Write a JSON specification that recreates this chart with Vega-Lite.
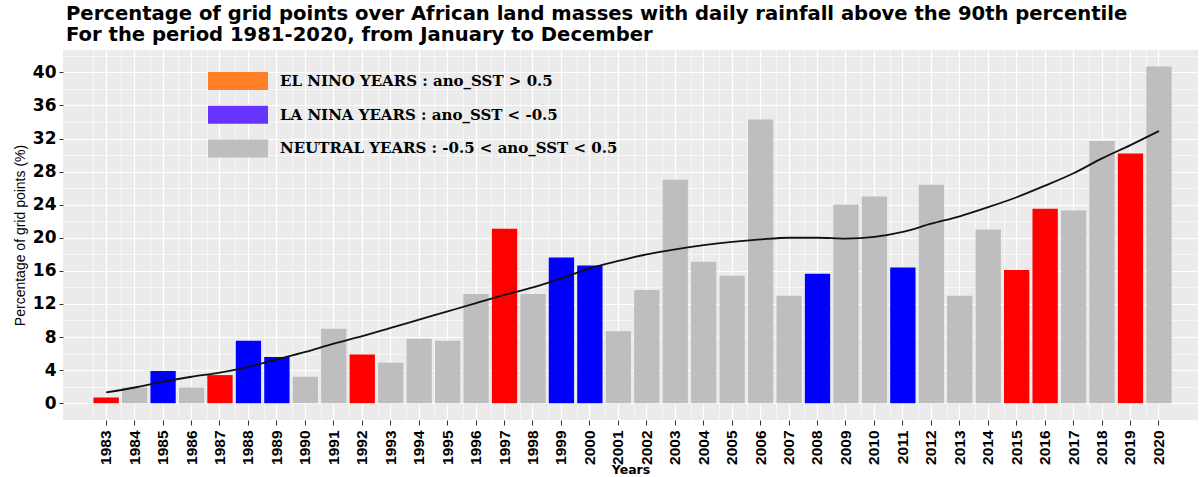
{
  "$schema": "https://vega.github.io/schema/vega-lite/v6.json",
  "autosize": "none",
  "width": 1135,
  "height": 370,
  "padding": {"left": 63, "top": 50, "right": 3, "bottom": 57},
  "background": "white",
  "title": {
    "text": ["Percentage of grid points over African land masses with daily rainfall above the 90th percentile", "For the period 1981-2020, from January to December"],
    "anchor": "start",
    "frame": "group",
    "font": "DejaVu Sans",
    "fontSize": 19.6,
    "fontWeight": "bold",
    "color": "black",
    "lineHeight": 21,
    "offset": 4,
    "dx": 3
  },
  "config": {
    "view": {"fill": "#EBEBEB", "stroke": null},
    "axis": {"domain": false}
  },
  "datasets": {
    "bars": [
      {"year": 1983, "value": 0.7, "phase": "El Nino"},
      {"year": 1984, "value": 1.9, "phase": "Neutral"},
      {"year": 1985, "value": 3.9, "phase": "La Nina"},
      {"year": 1986, "value": 1.9, "phase": "Neutral"},
      {"year": 1987, "value": 3.4, "phase": "El Nino"},
      {"year": 1988, "value": 7.55, "phase": "La Nina"},
      {"year": 1989, "value": 5.6, "phase": "La Nina"},
      {"year": 1990, "value": 3.2, "phase": "Neutral"},
      {"year": 1991, "value": 9.0, "phase": "Neutral"},
      {"year": 1992, "value": 5.9, "phase": "El Nino"},
      {"year": 1993, "value": 4.9, "phase": "Neutral"},
      {"year": 1994, "value": 7.8, "phase": "Neutral"},
      {"year": 1995, "value": 7.55, "phase": "Neutral"},
      {"year": 1996, "value": 13.2, "phase": "Neutral"},
      {"year": 1997, "value": 21.1, "phase": "El Nino"},
      {"year": 1998, "value": 13.2, "phase": "Neutral"},
      {"year": 1999, "value": 17.6, "phase": "La Nina"},
      {"year": 2000, "value": 16.65, "phase": "La Nina"},
      {"year": 2001, "value": 8.7, "phase": "Neutral"},
      {"year": 2002, "value": 13.7, "phase": "Neutral"},
      {"year": 2003, "value": 27.0, "phase": "Neutral"},
      {"year": 2004, "value": 17.1, "phase": "Neutral"},
      {"year": 2005, "value": 15.4, "phase": "Neutral"},
      {"year": 2006, "value": 34.3, "phase": "Neutral"},
      {"year": 2007, "value": 13.0, "phase": "Neutral"},
      {"year": 2008, "value": 15.65, "phase": "La Nina"},
      {"year": 2009, "value": 24.0, "phase": "Neutral"},
      {"year": 2010, "value": 25.0, "phase": "Neutral"},
      {"year": 2011, "value": 16.4, "phase": "La Nina"},
      {"year": 2012, "value": 26.4, "phase": "Neutral"},
      {"year": 2013, "value": 13.0, "phase": "Neutral"},
      {"year": 2014, "value": 21.0, "phase": "Neutral"},
      {"year": 2015, "value": 16.1, "phase": "El Nino"},
      {"year": 2016, "value": 23.5, "phase": "El Nino"},
      {"year": 2017, "value": 23.3, "phase": "Neutral"},
      {"year": 2018, "value": 31.7, "phase": "Neutral"},
      {"year": 2019, "value": 30.2, "phase": "El Nino"},
      {"year": 2020, "value": 40.7, "phase": "Neutral"}
    ],
    "trend": [
      {"year": 1983, "value": 1.3},
      {"year": 1984, "value": 1.9},
      {"year": 1985, "value": 2.6},
      {"year": 1986, "value": 3.2},
      {"year": 1987, "value": 3.7},
      {"year": 1988, "value": 4.4},
      {"year": 1989, "value": 5.3},
      {"year": 1990, "value": 6.2},
      {"year": 1991, "value": 7.2},
      {"year": 1992, "value": 8.1},
      {"year": 1993, "value": 9.1},
      {"year": 1994, "value": 10.1},
      {"year": 1995, "value": 11.1},
      {"year": 1996, "value": 12.1},
      {"year": 1997, "value": 13.1},
      {"year": 1998, "value": 14.0},
      {"year": 1999, "value": 15.1},
      {"year": 2000, "value": 16.3},
      {"year": 2001, "value": 17.2},
      {"year": 2002, "value": 18.0},
      {"year": 2003, "value": 18.6},
      {"year": 2004, "value": 19.1},
      {"year": 2005, "value": 19.5},
      {"year": 2006, "value": 19.8},
      {"year": 2007, "value": 20.0},
      {"year": 2008, "value": 20.0},
      {"year": 2009, "value": 19.9},
      {"year": 2010, "value": 20.1},
      {"year": 2011, "value": 20.7},
      {"year": 2012, "value": 21.7},
      {"year": 2013, "value": 22.6},
      {"year": 2014, "value": 23.7},
      {"year": 2015, "value": 24.9},
      {"year": 2016, "value": 26.3},
      {"year": 2017, "value": 27.8},
      {"year": 2018, "value": 29.6},
      {"year": 2019, "value": 31.2},
      {"year": 2020, "value": 32.9}
    ]
  },
  "resolve": {"axis": {"x": "independent", "y": "independent"}},
  "layer": [
    {
      "data": {"name": "bars"},
      "mark": {"type": "bar"},
      "encoding": {
        "x": {
          "field": "year",
          "type": "ordinal",
          "scale": {"paddingInner": 0.11, "paddingOuter": 1.8, "align": 0.536},
          "axis": {
            "title": "Years",
            "orient": "bottom",
            "labelAngle": 270,
            "labelFont": "Liberation Sans",
            "labelFontWeight": "bold",
            "labelFontSize": 15.5,
            "labelColor": "black",
            "labelPadding": 5,
            "tickColor": "#333333",
            "tickSize": 5,
            "tickWidth": 1,
            "grid": true,
            "gridColor": "white",
            "gridWidth": 1.2,
            "titleFont": "DejaVu Sans",
            "titleFontSize": 12.5,
            "titleFontWeight": "bold",
            "titleColor": "black",
            "titlePadding": -1
          }
        },
        "y": {
          "field": "value",
          "type": "quantitative",
          "scale": {"domain": [-2.03, 42.7], "nice": false, "zero": false},
          "axis": {
            "title": "Percentage of grid points (%)",
            "orient": "left",
            "values": [0, 4, 8, 12, 16, 20, 24, 28, 32, 36, 40],
            "labelFont": "DejaVu Sans",
            "labelFontWeight": "bold",
            "labelFontSize": 17,
            "labelColor": "black",
            "labelPadding": 3,
            "tickColor": "#333333",
            "tickSize": 4,
            "grid": true,
            "gridColor": "white",
            "gridWidth": 1.2,
            "titleFont": "Liberation Sans",
            "titleFontSize": 14,
            "titleFontWeight": "normal",
            "titleColor": "black",
            "titlePadding": 5
          }
        },
        "fill": {
          "field": "phase",
          "type": "nominal",
          "scale": {"domain": ["Neutral", "El Nino", "La Nina"], "range": ["#BEBEBE", "#FF0000", "#0000FF"]},
          "legend": null
        }
      }
    },
    {
      "data": {"name": "trend"},
      "mark": {"type": "line", "color": "#111111", "strokeWidth": 1.8, "interpolate": "monotone"},
      "encoding": {
        "x": {
          "field": "year",
          "type": "ordinal",
          "axis": {
            "orient": "top",
            "title": null,
            "labels": false,
            "ticks": false,
            "grid": true,
            "bandPosition": 0,
            "gridColor": "white",
            "gridWidth": 0.6
          }
        },
        "y": {
          "field": "value",
          "type": "quantitative",
          "axis": {
            "orient": "right",
            "title": null,
            "labels": false,
            "ticks": false,
            "grid": true,
            "values": [2, 6, 10, 14, 18, 22, 26, 30, 34, 38, 42],
            "gridColor": "white",
            "gridWidth": 0.6
          }
        }
      }
    },
    {
      "data": {"name": "bars"},
      "mark": {"type": "bar"},
      "encoding": {
        "x": {"field": "year", "type": "ordinal", "axis": null},
        "y": {"datum": 0, "type": "quantitative", "axis": null},
        "color": {
          "field": "phase",
          "type": "nominal",
          "scale": {"domain": ["El Nino", "La Nina", "Neutral"], "range": ["#FF7F27", "#6633FF", "#BEBEBE"]},
          "legend": {
            "orient": "none",
            "legendX": 160,
            "legendY": 16,
            "title": null,
            "padding": 0,
            "symbolType": "M-2,-0.6H2V0.6H-2Z",
            "symbolSize": 900,
            "symbolStrokeWidth": 0,
            "symbolOpacity": 1,
            "labelOffset": 27,
            "labelFont": "DejaVu Serif",
            "labelFontWeight": "bold",
            "labelFontSize": 15,
            "labelColor": "black",
            "labelLimit": 0,
            "rowPadding": 9.7,
            "labelExpr": "datum.value == 'El Nino' ? 'EL NINO YEARS : ano_SST  > 0.5' : datum.value == 'La Nina' ? 'LA NINA YEARS : ano_SST < -0.5' : 'NEUTRAL YEARS : -0.5 < ano_SST < 0.5'"
          }
        }
      }
    }
  ]
}
